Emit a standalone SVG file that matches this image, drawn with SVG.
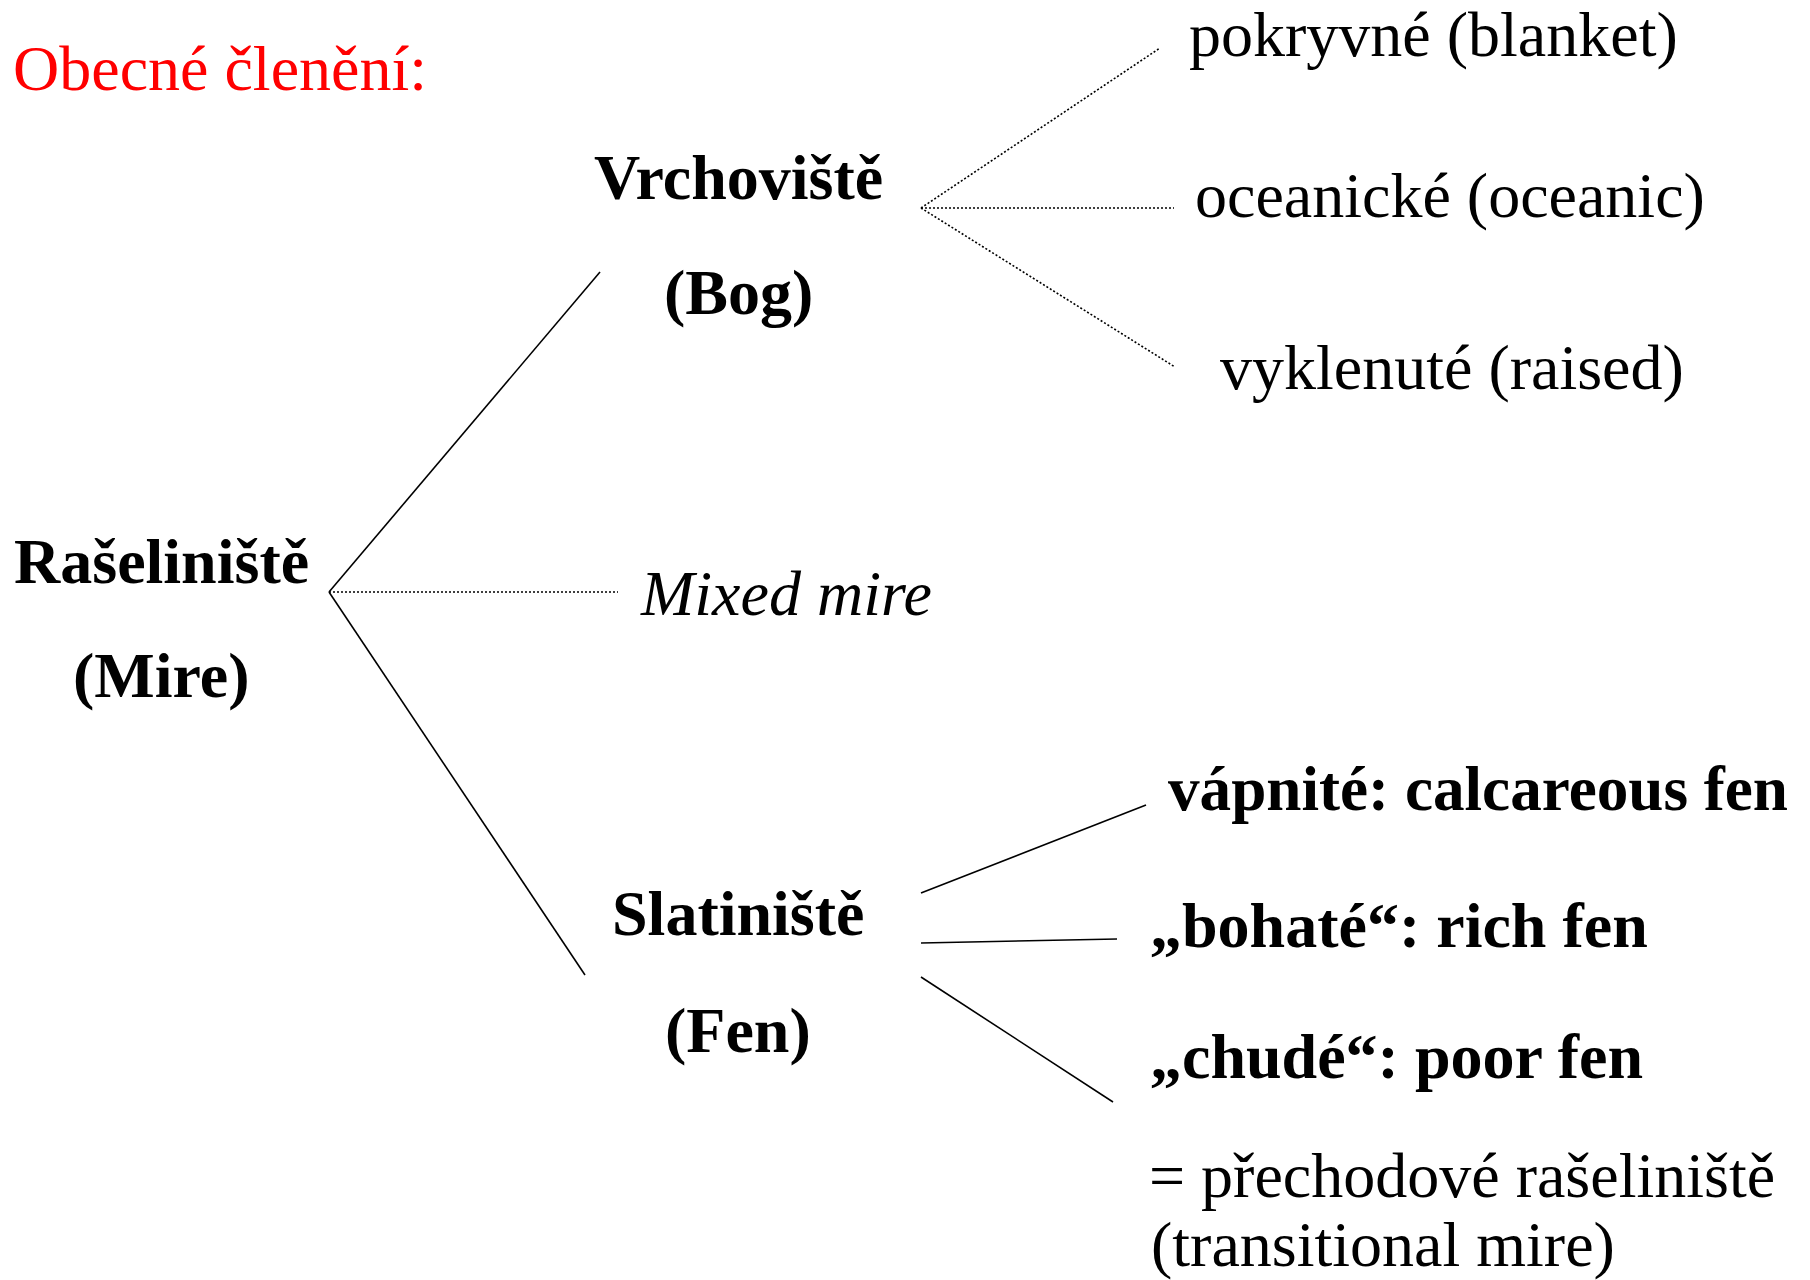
<svg xmlns="http://www.w3.org/2000/svg" width="1810" height="1280" viewBox="0 0 1810 1280">
<style>
text{font-family:"Liberation Serif","Times New Roman",serif;font-size:64px;fill:#000}
.b{font-weight:bold}
.i{font-style:italic}
.red{fill:#ff0000}
.solid{stroke:#000;stroke-width:1.6;fill:none}
.dot{stroke:#000;stroke-width:1.6;fill:none;stroke-dasharray:2 2}
</style>
<rect width="1810" height="1280" fill="#fff"/>
<text id="title" class="red" x="13" y="90">Obecné členění:</text>
<g id="connectors">
<line class="solid" x1="329" y1="592" x2="600" y2="272"/>
<line class="solid" x1="329" y1="592" x2="585" y2="975"/>
<line class="dot" x1="329" y1="592" x2="618" y2="592"/>
<line class="dot" x1="921" y1="208" x2="1160" y2="48"/>
<line class="dot" x1="921" y1="208" x2="1174" y2="208"/>
<line class="dot" x1="921" y1="208" x2="1175" y2="367"/>
<line class="solid" x1="921" y1="893" x2="1146" y2="805"/>
<line class="solid" x1="921" y1="943" x2="1117" y2="939"/>
<line class="solid" x1="921" y1="977" x2="1113" y2="1102"/>
</g>
<g id="mire"><text class="b" x="14" y="583">Rašeliniště</text><text class="b" x="73" y="697">(Mire)</text></g>
<g id="bog"><text class="b" x="594" y="199">Vrchoviště</text><text class="b" x="664" y="314">(Bog)</text></g>
<g id="mixed"><text class="i" x="641" y="615">Mixed mire</text></g>
<g id="fen"><text class="b" x="612" y="935">Slatiniště</text><text class="b" x="665" y="1052">(Fen)</text></g>
<g id="blanket"><text x="1189" y="56">pokryvné (blanket)</text></g>
<g id="oceanic"><text x="1195" y="217">oceanické (oceanic)</text></g>
<g id="raised"><text x="1220" y="389">vyklenuté (raised)</text></g>
<g id="calcareous"><text class="b" x="1168" y="810" textLength="620" lengthAdjust="spacingAndGlyphs">vápnité: calcareous fen</text></g>
<g id="rich"><text class="b" x="1150" y="947">„bohaté“: rich fen</text></g>
<g id="poor"><text class="b" x="1150" y="1078">„chudé“: poor fen</text></g>
<g id="transitional"><text x="1149" y="1197">= přechodové rašeliniště</text><text x="1151" y="1266">(transitional mire)</text></g>
</svg>
